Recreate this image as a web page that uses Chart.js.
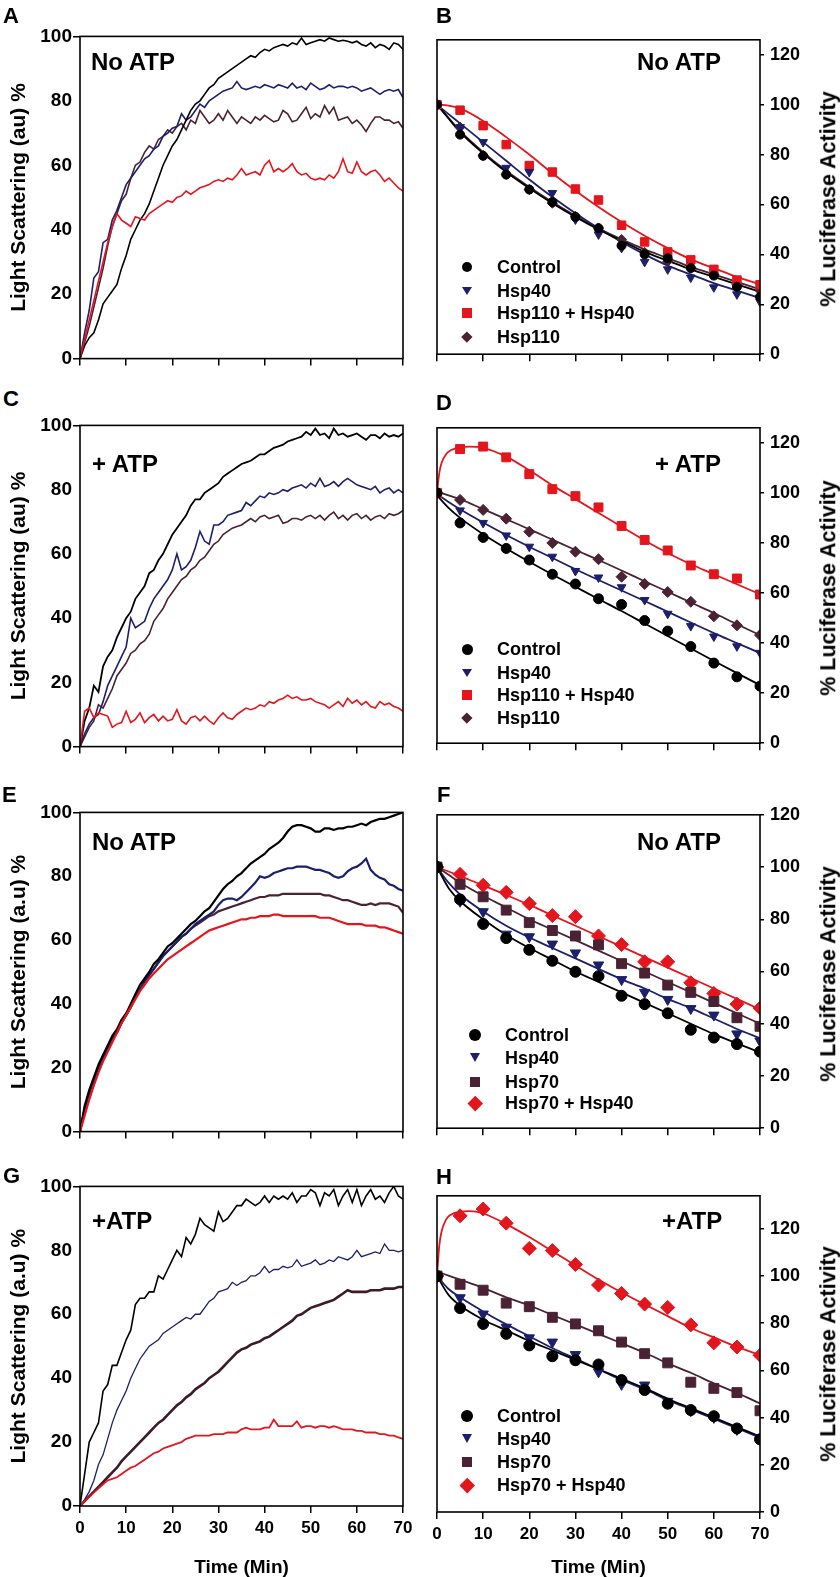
<!DOCTYPE html>
<html>
<head>
<meta charset="utf-8">
<script src="https://cdn.jsdelivr.net/npm/chart.js@4.4.1/dist/chart.umd.min.js"></script>
<style>
  html, body { margin: 0; padding: 0; background: #fff; }
  #fig { position: relative; width: 840px; height: 1577px; overflow: hidden;
         font-family: 'Liberation Sans', Arial, sans-serif; font-weight: bold; color: #000; }
  #fig canvas { position: absolute; }
  .txt { position: absolute; white-space: nowrap; line-height: 1; }
  .mk { position: absolute; }
</style>
</head>
<body>
<div id="fig"></div>
<script>
// ---- time axes (min) ----
const MINUTES = [0,1,2,3,4,5,6,7,8,9,10,11,12,13,14,15,16,17,18,19,20,21,22,23,24,25,26,27,28,29,
  30,31,32,33,34,35,36,37,38,39,40,41,42,43,44,45,46,47,48,49,50,51,52,53,54,55,56,57,58,59,
  60,61,62,63,64,65,66,67,68,69,70];
const PT = [0,5,10,15,20,25,30,35,40,45,50,55,60,65,70];
const FIT_T = [0,2.5,5,10,15,20,25,30,35,40,45,50,55,60,65,70];
const FIT_T_PEAK = [0,0.5,1,2,3,5,7,10,15,20,25,30,35,40,45,50,55,60,65,70];

// ---- A: light scattering, no ATP ----
const A_CONTROL = [0,4,6.5,8,12,17,19,21,23,28, 32,37,40,43,45,48,52,56,60,63,
  66,68,71,74,77,79,80,82,84,85, 87,88,89,90,91,92,93,94,93.5,95,
  96,95.5,96.5,97,97.5,97,98,97.5,99.5,97.5, 98,98.5,99,98.5,99.5,99,98.5,98.8,98.5,98,
  98.5,97.5,97,98,96.5,97.5,97,96,98,97.5, 96];
const A_HSP40 = [0,8,15,25,27,36,37,43,46,50, 54,56,58,60,62,63,65,66,69,70,
  71.5,72,76,74,75,77,79,78,80,81, 82,83,83.5,84,86,84,83.5,84,84.5,84,
  85,84.5,84,85,84.5,84,85.5,84,84.5,83.5, 85.5,84.5,83.5,84,85,84,84.5,84.5,84,84.5,
  84,83,83.5,84,83,82,83,83.5,83,83.5, 81];
const A_HSP110_HSP40 = [0,6,12,18,24,30,36,41,45,43, 42,41,44,43.5,43,45,46,47,48,49,
  48.5,50,50.5,52,51,52,53,53.5,54,55, 55.5,55,56,55.5,57,59,57,57.5,58,57,
  60,61.5,58,59,58,59,60.5,58,57,57.5, 56,55.5,56,55.5,57,56,58,62,58,57.5,
  61,58,57,58,58.5,57,55,56,54.5,53, 52];
const A_HSP110 = [0,5,10,16,22,28,35,41,45,49, 51,56,60,61,64,66,65,68,69,71,
  70,72,73,71,74,73,77,75,73,74, 76,74,77,75,73,75,74,73,75,74,
  75.5,74.5,73.5,74,77,76,73.5,74,76,78, 74.5,76,75,78.5,76,78,74,74.5,75,73,
  74,72.5,70.5,73,75,75,74,74,73,73.5, 71.5];

// ---- C: light scattering, + ATP ----
const C_CONTROL = [0,8,12,19,17,25,28,30,34,37, 40,42,46,48,50,54,55,58,60,63,
  66,68,70,72,75,77,77,79,80,81, 82,84,85,86,87,88,88.5,89,90,91,
  91,92,93,93.5,94,95,95.5,96,96.5,98, 97,99,97,97.5,96,99,97,97.5,96.5,97,
  97.5,96.5,95.5,97,97,96,97.5,96.5,97,96.5, 97.5];
const C_HSP40 = [0,4,7,9,10,14,19,22,25,28, 31,40,37,38,39,43,46,48,50,52,
  55,60,55,56,58,62,67,64,63,69, 69,70,72,72.5,73,73.5,76,75,76.5,78,
  77.5,79,78.5,79,80,79.5,80.5,81,81.5,80.5, 82,81,83.5,81,81.5,82.5,81,82.5,83.5,82.5,
  81.5,81,80.5,80,81,79,80,80.5,79,80, 79];
const C_HSP110_HSP40 = [0,11,12,9,10.5,10,9.5,6,7,7.5, 11,7.5,8.5,10.5,7.5,9,10,8,9.5,8,
  8.5,11.5,8,7,9,9.5,8,9.5,8,7, 9,10.5,9,8.5,10,11,12,11.5,12,13,
  12.5,14,13.5,14.5,15,16,15,15.5,14.5,14.5, 15,14,13.5,13,12,13,14,12.5,15,13.5,
  14.5,13,14,12.5,12,14,13,13.5,12.5,12, 11];
const C_HSP110 = [0,3,6,8,13,12,15,18,22,24, 26,29,30,32,33,35,39,41,43,46,
  48,50,52,53,55,56,58,59,61,63, 64,66,67,68,68.5,69,70,71,70,71.5,
  72,71,71.5,72,69.5,70,71,71,70.5,71.5, 72,71,72,70.5,72,73,71,72,70.5,72,
  72.5,71,72,70.5,71.5,72,71,72.5,72,72.5, 73.5];

// ---- E: light scattering, no ATP (Hsp70 set) ----
const E_CONTROL = [0,8,13,17,21,24,27,30,32,35, 37,40,43,46,48,50,52.5,54,56,58,
  59,60.5,62,63.5,65,66,67.5,69,70,72, 74,76,77.5,78.5,80,81,82.5,84,85,86,
  87,88.5,89.5,90.5,92,94,95.5,96,96,95.5, 95,94,94,95,95,94.5,95,95,95.5,95.5,
  96,96.5,96,97,97.5,98,98,98.5,99,99.5, 100];
const E_HSP40 = [0,7,12,16,20,23,26,29,31,34, 36.5,39,42,44.5,47,49,51,53,55,56.5,
  58,59.5,61,62,63.5,65,66,67,68,69, 71,72.5,73,73,72.5,73.5,75,76.5,78,80,
  79.5,80,81,81.5,82,82.5,82.5,83,83,83, 82.5,82,82,81.5,81,80,79.5,80,81.5,82.5,
  83,84,85.5,82,80.5,79.5,79,77.5,77,76, 75.5];
const E_HSP70_HSP40 = [0,5,10,14.5,18.5,22,25,28,31,34, 36.5,39,41.5,44,46,48,49.5,51,52.5,54,
  55,56,57,58,59,60,61,62,63,63.5, 64,64.5,65,65.5,66,66.5,66.5,67,67,67.5,
  67.5,67.5,68,68,67.5,67.5,67.5,67.5,67.5,67.5, 67.5,67.5,67,67,67,66.5,66,65.5,65,65,
  65,65,64.5,64.5,64.5,64,64,63.5,63,62.5, 62];
const E_HSP70 = [0,7,12,16,20,23,26,29,31,34, 36.5,39,42,44.5,47,49,51,53,55,56.5,
  58,59.5,61,62,63.5,64.5,65.5,66.5,67.5,68, 69,69.5,70,70.5,71,71.5,72,72.5,73,73.5,
  73.5,74,74,74,74.5,74.5,74.5,74.5,74.5,74.5, 74.5,74.5,74.5,74,74,73.5,73,72.5,72.5,72,
  71.5,71,71,71.5,71,71.5,71.5,71.5,71,70.5, 68.5];

// ---- G: light scattering, + ATP (Hsp70 set) ----
const G_CONTROL = [0,10,20,23,26,36,38,44,44,48, 52,55,63,65,65,67,67,72,71,74,
  77,80,78,84,82,85,90,88,87,86, 92,89,90,92,94,94,96,95,94,95,
  97,95,97,96,97,96,98,95,97,97, 99,98,94,98,97,99,94,97,99,95,
  99,94,97,99,96,97,95,98,100,97, 96];
const G_HSP40 = [0,2,4.5,8,13,16,21,26,30,33, 36,40,43,46,48,50,51,52,54,55,
  56,57,58,59,58.5,60,60,62,64,65, 67,67.5,68,70,69,70,70.5,72,72,73,
  75,73,74,74,75,74.5,75,77,75,75.5, 76,77,75.5,76,77,76.5,78,77.5,77,78,
  80,78,78.5,79,79.5,79,82,80,80,79.5, 80];
const G_HSP70_HSP40 = [0,1.5,2.8,4.2,5.5,6.8,8,8.5,9,10, 11,12,12.5,13.5,14.5,15.5,16.5,17,18,18.5,
  19,19.5,20,21,21.5,22,22,22,22,22.5, 22.5,22.5,23,23,23,24,24.5,24,24,24,
  24.5,24.5,27,25,25,25,25,26.5,24.5,25, 25,24.5,25,25,24.5,25,24.5,24,24,24,
  23.5,23.5,23,23,23,22.5,22.5,22,22,21.5, 21];
const G_HSP70 = [0,1.5,3,4.5,6,7.5,9,10.5,12,14, 15.5,17,18.5,20,21.5,23,24.5,26,27,28.5,
  30,31.5,32.5,34,35,36.5,37.5,38.5,40,41, 42,43.5,45,46.5,48,49,49.5,50.5,51,51.5,
  52.5,53,54,55,56,57,58,59.5,60,61, 62,62.5,63,63.5,64,64.5,65.5,66.5,67.5,67,
  67,67,67,67.5,67.5,67.5,68,68,68,68.5, 68.5];

// ---- B: luciferase activity, no ATP ----
const B_CONTROL = [100,88,79.5,72,66,61,55,50.5,43.5,40,38.5,34.5,31.5,27,23];
const B_HSP40 = [100,91,85,74.7,73,64.6,54,48,42.6,37,34,30.7,26.8,24,21];
const B_HSP110_HSP40 = [100,97.8,91.6,84,75.6,73,66.2,61.8,51.7,45,41,37.8,34,29.7,27.8];
const B_HSP110 = [100,91,79.7,72,66,60.5,55.3,50.6,46,40.8,37.2,34.8,32,28,25.5];
const B_CONTROL_FIT = [100,94.5,89,80.5,73,66.5,60.5,55,50,45.5,41,37.5,34,31,28,25];
const B_HSP40_FIT = [100,96.2,92.5,85,77.5,70,63,56.5,50.5,45,40,35.5,32,28.5,25.5,22.5];
const B_HSP110_HSP40_FIT = [100,99.6,98.5,93.5,87,80,72.5,65.5,59,53,47.5,42.5,38,34.5,31,28];
const B_HSP110_FIT = [100,94.7,89.5,81,73.5,67,61,55.5,50.5,46,42,38.5,35,32,29,26];

// ---- D: luciferase activity, + ATP ----
const D_CONTROL = [100,88,82.2,77.8,73.2,67.5,63.6,57.7,55.4,49,44.8,38.6,32,26.5,22.8];
const D_HSP40 = [100,93,88,83,78.5,74.5,68.8,66.2,62.3,57.2,51.7,46.8,42.6,38.7,36.1];
const D_HSP110_HSP40 = [100,117.5,118.5,114.2,107.5,101.5,98.7,94.2,86.8,81.2,77,71,67.5,65.8,59.4];
const D_HSP110 = [100,97.2,93.2,89.7,84.5,80,76.5,73.5,66.5,63.6,60.4,56.5,50.7,47.1,43.2];
const D_CONTROL_FIT = [99,94,90,83.5,77.8,72.5,67.4,62.5,57.6,52.8,47.8,42.8,37.8,32.9,28,23.2];
const D_HSP40_FIT = [99.5,96.4,93.5,88.2,83.2,78.5,74,69.5,65.2,61,56.8,52.5,48.2,44,40,36];
const D_HSP110_HSP40_FIT = [100,108,112,115.5,117,118.3,118.5,118,114.5,109,103,97.5,92,86.5,81,76,71.5,67.5,63.5,59.5];
const D_HSP110_FIT = [100.5,99,97.5,93.5,89.5,85.5,81.3,77.2,73.2,69,64.7,60.5,56.2,52,47.5,43.2];

// ---- F: luciferase activity, no ATP (Hsp70 set) ----
const F_CONTROL = [100,87.6,78.2,72.8,68.3,64.1,59.9,58.2,50.7,47.5,44,37.7,34.7,32.2,29.3];
const F_HSP40 = [100,86.9,82.9,74.3,73.3,70.5,67.1,62.5,56.9,52,49.3,45.8,43.3,36.1,33.4];
const F_HSP70 = [100,93.4,88.6,83.5,78.7,75.7,73.6,70.2,63,59.4,54.8,52,48.5,42.3,39];
const F_HSP70_HSP40 = [100,97.2,93,90.3,86,81.4,81,73.6,70.3,63.7,63.7,55.7,51.6,47.5,46];
const F_CONTROL_FIT = [100,92,87,80,74,69,64.5,60,56,52,48,44,40,36,32.5,29];
const F_HSP40_FIT = [100,94,89.5,83,77.5,73,69,65,61,57,53.5,49.5,46,42,38,34.5];
const F_HSP70_FIT = [100,97,94,89,84.5,80,76,72,68,64,60,56,52,48,44,40];
const F_HSP70_HSP40_FIT = [100,98.3,96.5,93,89.3,85.5,81.5,77.5,73.5,69.5,65.5,61.5,57.5,53.5,49.5,45.5];

// ---- H: luciferase activity, + ATP (Hsp70 set) ----
const H_CONTROL = [100,86.4,79.7,75.5,70.6,66,64.3,62.5,55.9,51.7,45.9,43.2,40.6,35.4,30.8];
const H_HSP40 = [100,90.8,83.9,78.3,73.8,72,66.7,59.4,54.1,53.8,46.9,42.9,40.1,35,31.5];
const H_HSP70 = [100,96.5,94,88.5,87,82.5,79.7,76.8,72,67.1,63.2,55,52.4,50.6,42.9];
const H_HSP70_HSP40 = [100,125.5,128.4,122.4,111.7,110.8,104.9,96.2,92.6,88.1,86.7,79.3,71.7,69.9,66.4];
const H_CONTROL_FIT = [100,92,87.5,81.5,77,72.5,68.5,64.5,60.5,56.5,52.5,48,44,40,36,32];
const H_HSP40_FIT = [100,94.5,91,85,79.5,74.5,69.5,65,60.5,56,52,47.5,43.5,39.5,35.5,31.5];
const H_HSP70_FIT = [102,100.2,98.5,95,91,87.5,83.5,79.5,75.5,71.5,67.5,63,59,54.5,50.5,46];
const H_HSP70_HSP40_FIT = [100,113,119,124,126,127.3,127.5,126.5,122,116.5,110.5,104.5,98.5,93,88,83,78,74,70,66.5];

const X_TICKS = [0,10,20,30,40,50,60,70];
const SCATTER_TICKS = [0,20,40,60,80,100];
const ACTIVITY_TICKS = [0,20,40,60,80,100,120];

const BLACK = '#000000', NAVY = '#1c1f6b', BROWN = '#4a2233', RED = '#e3161d';

Chart.defaults.font.family = "'Liberation Sans', Arial, sans-serif";
Chart.defaults.font.weight = 'bold';
Chart.defaults.font.size = 18;
Chart.defaults.color = '#000';

const fig = document.getElementById('fig');

// box around the plot area
const frame = {
  id: 'frame',
  afterDraw(chart) {
    const { ctx, chartArea: a } = chart;
    ctx.save();
    ctx.strokeStyle = '#000';
    ctx.lineWidth = 1.6;
    ctx.strokeRect(a.left, a.top, a.right - a.left, a.bottom - a.top);
    ctx.restore();
  }
};

function pts(xs, ys) { return ys.map((y, i) => ({ x: xs[i], y })); }
function fixedTicks(list) { return s => { s.ticks = list.map(v => ({ value: v })); }; }

function makeCanvas(left, top, width, height) {
  const c = document.createElement('canvas');
  c.width = width; c.height = height;
  c.style.left = left + 'px'; c.style.top = top + 'px';
  c.style.width = width + 'px'; c.style.height = height + 'px';
  fig.appendChild(c);
  return c;
}

function addText(str, x, capTop, size) {
  const d = document.createElement('div');
  d.className = 'txt';
  d.textContent = str;
  d.style.left = x + 'px';
  d.style.top = (capTop - 0.13 * size) + 'px';
  d.style.fontSize = size + 'px';
  fig.appendChild(d);
}

function addVertical(str, cx, cy, size) {
  const d = document.createElement('div');
  d.className = 'txt';
  d.textContent = str;
  d.style.left = cx + 'px';
  d.style.top = cy + 'px';
  d.style.fontSize = size + 'px';
  d.style.transform = 'translate(-50%,-50%) rotate(-90deg)';
  fig.appendChild(d);
}

function addMarker(shape, color, cx, cy, s) {
  const d = document.createElement('div');
  d.className = 'mk';
  if (shape === 'tri') {
    d.style.cssText += `left:${cx - s / 2}px;top:${cy - s * 0.42}px;width:0;height:0;` +
      `border-left:${s / 2}px solid transparent;border-right:${s / 2}px solid transparent;border-top:${s * 0.85}px solid ${color}`;
  } else {
    const side = shape === 'diamond' ? s * 0.7 : s;
    d.style.cssText += `left:${cx - side / 2}px;top:${cy - side / 2}px;width:${side}px;height:${side}px;background:${color}`;
    if (shape === 'circle') d.style.borderRadius = '50%';
    if (shape === 'diamond') d.style.transform = 'rotate(45deg)';
  }
  fig.appendChild(d);
}

const STYLE = { circle: ['circle', 0], tri: ['triangle', 180], square: ['rect', 0], diamond: ['rectRot', 0] };

function xScale(bottomRow, axisH) {
  return {
    type: 'linear', min: 0, max: 70,
    afterBuildTicks: fixedTicks(X_TICKS),
    ticks: { display: bottomRow, padding: 5, font: { size: 17 } },
    grid: { drawOnChartArea: false, tickLength: 7, color: '#000', lineWidth: 1.5 },
    border: { display: false },
    title: { display: bottomRow, text: 'Time (Min)', font: { size: 19, lineHeight: 1 }, padding: 0 },
    afterFit: s => { s.height = axisH; }
  };
}

// ---------- left column: light scattering ----------
const LEFT = [
  { letter: 'A', lx: 3, ly: 8, top: 36, bottom: 359, yTitle: 'Light Scattering (au) %', note: 'No ATP', nx: 91, ny: 53,
    lines: [[A_HSP110_HSP40, RED, 1.6], [A_CONTROL, BLACK, 1.6], [A_HSP40, NAVY, 1.6], [A_HSP110, BROWN, 1.6]] },
  { letter: 'C', lx: 3, ly: 391, top: 425, bottom: 747, yTitle: 'Light Scattering (au) %', note: '+ ATP', nx: 92, ny: 455,
    lines: [[C_HSP110_HSP40, RED, 1.6], [C_CONTROL, BLACK, 1.8], [C_HSP40, NAVY, 1.6], [C_HSP110, BROWN, 1.6]] },
  { letter: 'E', lx: 2, ly: 787, top: 812, bottom: 1132, yTitle: 'Light Scattering (a.u) %', note: 'No ATP', nx: 92, ny: 833,
    lines: [[E_HSP70_HSP40, RED, 2.2], [E_CONTROL, BLACK, 2.2], [E_HSP40, NAVY, 2.2], [E_HSP70, BROWN, 2.2]] },
  { letter: 'G', lx: 3, ly: 1168, top: 1186, bottom: 1506, yTitle: 'Light Scattering (a.u) %', note: '+ATP', nx: 92, ny: 1212, bottomRow: true,
    lines: [[G_HSP70_HSP40, RED, 1.8], [G_CONTROL, BLACK, 1.6], [G_HSP40, NAVY, 1.3], [G_HSP70, '#3d1a2a', 2.6]] }
];

LEFT.forEach(p => {
  const padTop = 12, padBottom = p.bottomRow ? 0 : 4;
  const axisH = p.bottomRow ? 1577 - p.bottom : 8;
  const canvas = makeCanvas(0, p.top - padTop, 420, padTop + (p.bottom - p.top) + axisH + padBottom);
  new Chart(canvas, {
    type: 'line',
    data: {
      datasets: p.lines.map(([vals, color, w]) => ({
        data: pts(MINUTES, vals), borderColor: color, borderWidth: w,
        pointRadius: 0, tension: 0, fill: false
      }))
    },
    options: {
      responsive: false, animation: false,
      layout: { padding: { top: padTop, right: 17, bottom: padBottom, left: 0 } },
      plugins: { legend: { display: false }, tooltip: { enabled: false } },
      scales: {
        x: xScale(!!p.bottomRow, axisH),
        y: {
          min: 0, max: 100,
          afterBuildTicks: fixedTicks(SCATTER_TICKS),
          ticks: { padding: 1, font: { size: 19 } },
          grid: { drawOnChartArea: false, tickLength: 7, lineWidth: 1.5,
                  tickColor: c => (c.tick && (c.tick.value === 0 || c.tick.value === 100)) ? '#000' : 'rgba(0,0,0,0)' },
          border: { display: false },
          title: { display: true, text: p.yTitle, font: { size: 21 }, padding: { top: 7, bottom: 0 } },
          afterFit: s => { s.width = 80; }
        }
      }
    },
    plugins: [frame]
  });
  addText(p.letter, p.lx, p.ly, 22);
  addText(p.note, p.nx, p.ny, 24);
});

// ---------- right column: luciferase activity ----------
const RIGHT = [
  { letter: 'B', lx: 436, ly: 8, top: 35, bottom: 359, max: 126, note: 'No ATP', nx: 637, ny: 53,
    legX: 467, legT: 497, legY: [267, 291, 313, 337],
    groups: [
      ['Control', B_CONTROL, B_CONTROL_FIT, FIT_T, BLACK, 'circle', 4.5, 10],
      ['Hsp40', B_HSP40, B_HSP40_FIT, FIT_T, NAVY, 'tri', 5, 10],
      ['Hsp110 + Hsp40', B_HSP110_HSP40, B_HSP110_HSP40_FIT, FIT_T, RED, 'square', 6, 10],
      ['Hsp110', B_HSP110, B_HSP110_FIT, FIT_T, BROWN, 'diamond', 5, 11]
    ] },
  { letter: 'D', lx: 436, ly: 395, top: 423, bottom: 748, max: 126, note: '+ ATP', nx: 655, ny: 455,
    legX: 467, legT: 497, legY: [649, 673, 695, 718],
    groups: [
      ['Control', D_CONTROL, D_CONTROL_FIT, FIT_T, BLACK, 'circle', 5, 11],
      ['Hsp40', D_HSP40, D_HSP40_FIT, FIT_T, NAVY, 'tri', 5, 10],
      ['Hsp110 + Hsp40', D_HSP110_HSP40, D_HSP110_HSP40_FIT, FIT_T_PEAK, RED, 'square', 6.3, 10],
      ['Hsp110', D_HSP110, D_HSP110_FIT, FIT_T, BROWN, 'diamond', 5.5, 11]
    ] },
  { letter: 'F', lx: 437, ly: 787, top: 810, bottom: 1133, max: 120, note: 'No ATP', nx: 637, ny: 833,
    legX: 475, legT: 505, legY: [1035, 1058, 1082, 1103],
    groups: [
      ['Control', F_CONTROL, F_CONTROL_FIT, FIT_T, BLACK, 'circle', 5.5, 12],
      ['Hsp40', F_HSP40, F_HSP40_FIT, FIT_T, NAVY, 'tri', 6, 11],
      ['Hsp70', F_HSP70, F_HSP70_FIT, FIT_T, BROWN, 'square', 7, 10],
      ['Hsp70 + Hsp40', F_HSP70_HSP40, F_HSP70_HSP40_FIT, FIT_T, RED, 'diamond', 7, 15]
    ] },
  { letter: 'H', lx: 436, ly: 1169, top: 1191, bottom: 1512, max: 134, note: '+ATP', nx: 662, ny: 1212, bottomRow: true,
    legX: 467, legT: 497, legY: [1416, 1439, 1462, 1485],
    groups: [
      ['Control', H_CONTROL, H_CONTROL_FIT, FIT_T, BLACK, 'circle', 5.5, 12],
      ['Hsp40', H_HSP40, H_HSP40_FIT, FIT_T, NAVY, 'tri', 6, 11],
      ['Hsp70', H_HSP70, H_HSP70_FIT, FIT_T, BROWN, 'square', 7, 10],
      ['Hsp70 + Hsp40', H_HSP70_HSP40, H_HSP70_HSP40_FIT, FIT_T_PEAK, RED, 'diamond', 7, 15]
    ] }
];

RIGHT.forEach(p => {
  const padTop = 12, padBottom = p.bottomRow ? 0 : 4;
  const axisH = p.bottomRow ? 1577 - p.bottom : 8;
  const canvas = makeCanvas(420, p.top - padTop, 420, padTop + (p.bottom - p.top) + axisH + padBottom);
  const datasets = [];
  p.groups.forEach(([name, vals, fit, fitT, color, shape, r]) => {
    datasets.push({
      label: name + ' fit', data: pts(fitT, fit), borderColor: color, borderWidth: 1.8,
      pointRadius: 0, cubicInterpolationMode: 'monotone', fill: false, order: 1
    });
    datasets.push({
      label: name, data: pts(PT, vals), showLine: false,
      pointStyle: STYLE[shape][0], pointRotation: STYLE[shape][1], pointRadius: r,
      pointBackgroundColor: color, pointBorderColor: color, pointBorderWidth: 1, order: 0
    });
  });
  new Chart(canvas, {
    type: 'line',
    data: { datasets },
    options: {
      responsive: false, animation: false,
      layout: { padding: { top: padTop, right: 0, bottom: padBottom, left: 17 } },
      plugins: { legend: { display: false }, tooltip: { enabled: false } },
      scales: {
        x: xScale(!!p.bottomRow, axisH),
        y: {
          position: 'right', min: 0, max: p.max,
          afterBuildTicks: fixedTicks(ACTIVITY_TICKS),
          ticks: { padding: 6, font: { size: 18 } },
          grid: { drawOnChartArea: false, tickLength: 4, color: '#000', lineWidth: 1.5 },
          border: { display: false },
          afterFit: s => { s.width = 80; }
        }
      }
    },
    plugins: [frame]
  });
  addText(p.letter, p.lx, p.ly, 22);
  addText(p.note, p.nx, p.ny, 24);
  addVertical('% Luciferase Activity', 829, (p.top + p.bottom) / 2 + 2, 21.5);
  p.groups.forEach(([name, , , , color, shape, , ms], i) => {
    addMarker(shape, color, p.legX, p.legY[i], ms);
    addText(name, p.legT, p.legY[i] - 6.5, 18);
  });
});
</script>
</body>
</html>
